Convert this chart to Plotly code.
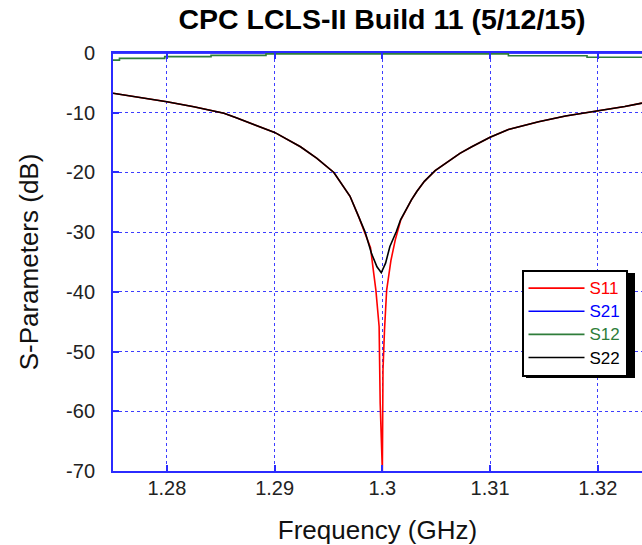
import plotly.graph_objects as go

# ---------------- data ----------------
freq_s11 = [1.2750, 1.2775, 1.2800, 1.2825, 1.2838, 1.2853, 1.2865, 1.2878, 1.2889, 1.2900,
            1.2924, 1.2939, 1.2955, 1.2961, 1.2970, 1.2978, 1.2984, 1.2989, 1.2992, 1.2994,
            1.2997, 1.2998, 1.3000, 1.30006, 1.3002, 1.3004, 1.3008, 1.3012, 1.3017, 1.3022,
            1.3027, 1.3032, 1.3039, 1.3049, 1.3063, 1.3072, 1.3083, 1.3100, 1.3117, 1.3145,
            1.3170, 1.3200, 1.3225, 1.3241]
s11 = [-6.75, -7.4, -8.15, -9.0, -9.5, -10.1, -10.9, -11.8, -12.5, -13.3,
       -15.7, -17.6, -20.0, -21.6, -24.0, -27.4, -30.2, -32.6, -36.9, -39.7,
       -45.8, -58.7, -70.0, -53.1, -46.4, -39.7, -34.7, -31.3, -28.0, -26.2,
       -24.6, -23.2, -21.5, -19.7, -18.0, -16.8, -15.7, -14.1, -12.8, -11.5,
       -10.55, -9.7, -8.95, -8.4]

freq_s22 = [1.2750, 1.2775, 1.2800, 1.2825, 1.2838, 1.2853, 1.2865, 1.2878, 1.2889, 1.2900,
            1.2924, 1.2939, 1.2955, 1.2961, 1.2970, 1.2978, 1.2984, 1.2990, 1.2995, 1.2999,
            1.3003, 1.3007, 1.3013, 1.3017, 1.3022, 1.3027, 1.3032, 1.3039, 1.3049, 1.3063,
            1.3072, 1.3083, 1.3100, 1.3117, 1.3145, 1.3170, 1.3200, 1.3225, 1.3241]
s22 = [-6.75, -7.4, -8.15, -9.0, -9.5, -10.1, -10.9, -11.8, -12.5, -13.3,
       -15.7, -17.6, -20.0, -21.6, -24.0, -27.4, -30.0, -33.6, -35.8, -36.8,
       -35.2, -32.4, -29.9, -27.9, -26.2, -24.6, -23.2, -21.5, -19.7, -18.0,
       -16.8, -15.7, -14.1, -12.8, -11.5, -10.55, -9.7, -8.95, -8.4]

freq_s12 = [1.2750, 1.2756, 1.2798, 1.2841, 1.2892, 1.3117, 1.3190, 1.3241]
s12 = [-1.2, -0.9, -0.6, -0.4, -0.15, -0.45, -0.7, -0.7]

freq_s21 = [1.2750, 1.3241]
s21 = [0.0, 0.0]

x_ticks = [1.28, 1.29, 1.30, 1.31, 1.32]
x_ticktext = ["1.28", "1.29", "1.3", "1.31", "1.32"]
y_ticks = [0, -10, -20, -30, -40, -50, -60, -70]
y_ticktext = ["0", "-10", "-20", "-30", "-40", "-50", "-60", "-70"]

series = [
    ("S11", freq_s11, s11, "#ff0000"),
    ("S21", freq_s21, s21, "#0000ff"),
    ("S12", freq_s12, s12, "#2e7d3a"),
    ("S22", freq_s22, s22, "#000000"),
]

W, H = 642, 545
ML, MR, MT, MB = 113, 0, 53, 74
PW, PH = W - ML - MR, H - MT - MB

def px(x):
    return (x - ML) / PW

def py(y):
    return (H - MB - y) / PH

FONT = "Liberation Sans, Arial, sans-serif"
AXIS_BLUE = "#2b2bff"
GRID_BLUE = "rgba(40,40,255,0.9)"

fig = go.Figure()
for name, fx, fy, col in series:
    fig.add_trace(go.Scatter(
        x=fx, y=fy, mode="lines",
        name=f'<span style="color:{col};font-size:17px">{name}</span>',
        line=dict(color=col, width=1.6, shape="hv" if name == "S12" else "linear"),
    ))

# legend drop shadow
fig.add_shape(type="rect", xref="paper", yref="paper",
              x0=px(526), x1=px(635), y0=py(378), y1=py(273),
              fillcolor="black", line=dict(width=0), layer="above")

fig.update_layout(
    width=W, height=H,
    margin=dict(l=ML, r=MR, t=MT, b=MB),
    paper_bgcolor="white", plot_bgcolor="white",
    font=dict(family=FONT, color="#111111"),
    title=dict(text="<b>CPC LCLS-II Build 11 (5/12/15)</b>",
               font=dict(family=FONT, size=28.5, color="black"),
               x=382 / W, xref="container", xanchor="center",
               y=1 - 19.5 / H, yref="container", yanchor="middle"),
    showlegend=True,
    legend=dict(x=px(521.5), y=py(269.5), xanchor="left", yanchor="top",
                bgcolor="white", bordercolor="black", borderwidth=2,
                font=dict(family=FONT, size=15.5),
                itemwidth=56, entrywidth=68, tracegroupgap=0),
    xaxis=dict(range=[1.275, 1.3241], tickvals=x_ticks, ticktext=x_ticktext,
               showgrid=True, gridcolor=GRID_BLUE, griddash="dot", gridwidth=1,
               showline=True, linecolor=AXIS_BLUE, linewidth=2, mirror="ticks",
               ticks="inside", ticklen=6, tickwidth=2, tickcolor=AXIS_BLUE,
               tickfont=dict(family=FONT, size=20, color="#222222"),
               ticklabelstandoff=-2,
               zeroline=False,
               title=dict(text="Frequency (GHz)", font=dict(family=FONT, size=26, color="#111111"),
                          standoff=24)),
    yaxis=dict(range=[-70, 0], tickvals=y_ticks, ticktext=y_ticktext,
               showgrid=True, gridcolor=GRID_BLUE, griddash="dot", gridwidth=1,
               showline=True, linecolor=AXIS_BLUE, linewidth=2, mirror=False,
               ticks="inside", ticklen=6, tickwidth=2, tickcolor=AXIS_BLUE,
               tickfont=dict(family=FONT, size=20, color="#222222"),
               ticklabelstandoff=12,
               zeroline=False,
               title=dict(text="S-Parameters (dB)", font=dict(family=FONT, size=26, color="#111111"),
                          standoff=20)),
)

fig.write_html("out.html")
